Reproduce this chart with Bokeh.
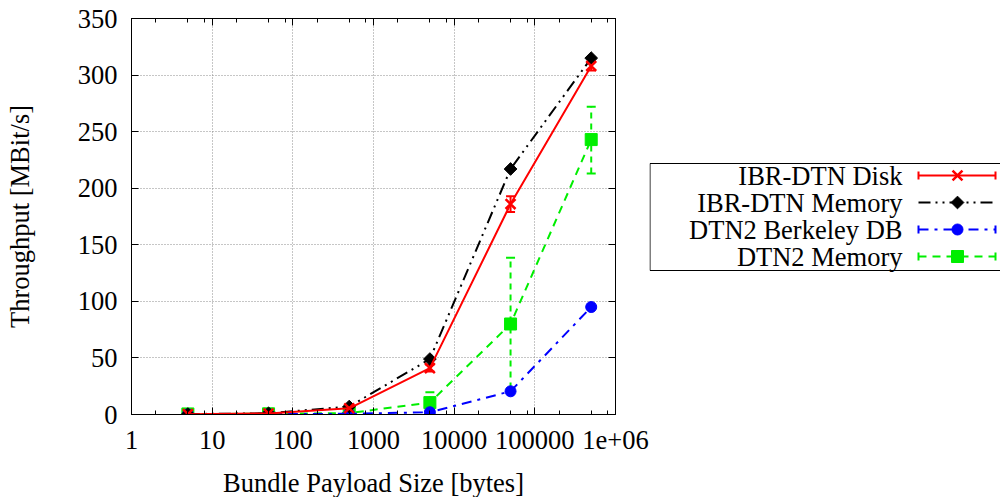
from bokeh.plotting import figure
from bokeh.layouts import row, column
from bokeh.models import (Range1d, FixedTicker, LinearAxis, LogAxis, Whisker, TeeHead,
                          ColumnDataSource)
from bokeh.core.properties import value
from bokeh.embed import file_html
from bokeh.resources import INLINE

FONT = "Liberation Serif"
FS = "26.5px"

# ---------------- data ----------------
sizes = [5, 50, 500, 5000, 50000, 500000]

ibr_disk = [0.3, 0.9, 5.5, 41, 186, 308]
ibr_disk_err = [0.1, 0.2, 1.0, 3.0, 7.0, 4.0]

ibr_mem = [0.4, 1.1, 7.0, 49, 217, 315]

dtn2_bdb = [0.1, 0.3, 0.6, 2.0, 20.5, 95]
dtn2_bdb_err = [0.1, 0.1, 0.2, 0.5, 1.5, 1.0]

dtn2_mem = [0.5, 0.6, 1.3, 10.5, 80, 243]
dtn2_mem_low = [0.3, 0.4, 0.8, 1.0, 23, 213]
dtn2_mem_high = [0.7, 0.8, 1.8, 19.7, 138.5, 272]

x_ticks = [1, 10, 100, 1000, 10000, 100000, 1000000]
x_tick_labels = ["1", "10", "100", "1000", "10000", "100000", "1e+06"]
x_minor = [m * d for d in [1, 10, 100, 1000, 10000, 100000] for m in (2, 5, 8)]
y_ticks = [0, 50, 100, 150, 200, 250, 300, 350]

x_title = "Bundle Payload Size [bytes]"
y_title = "Throughput [MBit/s]"

series_names = ["IBR-DTN Disk", "IBR-DTN Memory", "DTN2 Berkeley DB", "DTN2 Memory"]
series_colors = ["#ff0000", "#000000", "#0000ff", "#00ee00"]
series_dash = ["solid", "12 5 2 5 2 5", "10 6 3 6", "8 6"]
series_has_err = [True, False, True, True]

H = 497
BT, BL, BR = 18, 131, 34
TH = 37            # height of the strip that carries the x-axis title
PH = H - TH        # height of the main plot
BB = PH - BT - 396

# ---------------- main plot ----------------
p = figure(width=649, height=PH, x_axis_type="log",
           x_range=Range1d(1, 1e6), y_range=Range1d(0, 350),
           output_backend="svg", toolbar_location=None,
           min_border_left=BL, min_border_right=BR, min_border_top=BT, min_border_bottom=BB)
p.background_fill_color = "white"
p.border_fill_color = "white"
p.outline_line_color = "black"
p.outline_line_width = 1

xt = FixedTicker(ticks=x_ticks, minor_ticks=x_minor)
yt = FixedTicker(ticks=y_ticks)

p.xaxis.ticker = xt
p.xaxis.major_label_overrides = {t: l for t, l in zip(x_ticks, x_tick_labels)}
p.yaxis.ticker = yt
for ax in (p.xaxis[0], p.yaxis[0]):
    ax.major_tick_in = 7
    ax.major_tick_out = 0
    ax.minor_tick_in = 4
    ax.minor_tick_out = 0
    ax.axis_line_color = "black"
    ax.major_tick_line_color = "black"
    ax.minor_tick_line_color = "black"
    ax.major_label_text_font = FONT
    ax.major_label_text_font_size = FS
    ax.major_label_text_color = "black"
    ax.axis_label_text_font = FONT
    ax.axis_label_text_font_size = FS
    ax.axis_label_text_font_style = "normal"
    ax.axis_label_text_color = "black"
p.yaxis.minor_tick_line_color = None
p.yaxis.axis_label = y_title
p.xaxis.major_label_standoff = 16
p.yaxis.major_label_standoff = 14
p.yaxis.axis_label_standoff = 40

# mirrored axes (ticks only)
top = LogAxis(ticker=FixedTicker(ticks=x_ticks, minor_ticks=x_minor))
right = LinearAxis(ticker=FixedTicker(ticks=y_ticks))
for ax in (top, right):
    ax.major_tick_in = 7
    ax.major_tick_out = 0
    ax.minor_tick_in = 4
    ax.minor_tick_out = 0
    ax.major_label_text_font_size = "1px"
    ax.major_label_text_color = None
    ax.major_label_standoff = 0
    ax.axis_line_color = "black"
right.minor_tick_line_color = None
p.add_layout(top, "above")
p.add_layout(right, "right")

for g in (p.xgrid[0], p.ygrid[0]):
    g.grid_line_color = "#8c8c8c"
    g.grid_line_dash = "1 2"
    g.grid_line_width = 1
p.xgrid.ticker = xt
p.ygrid.ticker = yt

# error bars
src_disk = ColumnDataSource(dict(x=sizes, lo=[v - e for v, e in zip(ibr_disk, ibr_disk_err)],
                                 hi=[v + e for v, e in zip(ibr_disk, ibr_disk_err)]))
src_bdb = ColumnDataSource(dict(x=sizes, lo=[v - e for v, e in zip(dtn2_bdb, dtn2_bdb_err)],
                                hi=[v + e for v, e in zip(dtn2_bdb, dtn2_bdb_err)]))
src_mem2 = ColumnDataSource(dict(x=sizes, lo=dtn2_mem_low, hi=dtn2_mem_high))

for src, col, dash in ((src_disk, series_colors[0], "solid"),
                       (src_bdb, series_colors[2], "solid"),
                       (src_mem2, series_colors[3], "6 5")):
    w = Whisker(source=src, base="x", lower="lo", upper="hi", dimension="height",
                line_color=col, line_width=2, line_dash=dash,
                upper_head=TeeHead(size=9, line_color=col, line_width=2),
                lower_head=TeeHead(size=9, line_color=col, line_width=2))
    p.add_layout(w)

all_y = [ibr_disk, ibr_mem, dtn2_bdb, dtn2_mem]
for i in (3, 2, 1, 0):
    col = series_colors[i]
    p.line(sizes, all_y[i], line_color=col, line_width=2, line_dash=series_dash[i])
    if i == 0:
        p.scatter(sizes, all_y[i], marker="x", size=14, line_color=col, line_width=2.5)
    elif i == 1:
        p.scatter(sizes, all_y[i], marker="square", size=9, angle=0.785398,
                  fill_color=col, line_color=col)
    elif i == 2:
        p.scatter(sizes, all_y[i], marker="circle", size=11, fill_color=col, line_color=col)
    else:
        p.scatter(sizes, all_y[i], marker="square", size=12, fill_color=col, line_color=col)

# ---------------- x-axis title strip ----------------
t = figure(width=649, height=TH, title=None, x_range=Range1d(BL, 649 - BR), y_range=Range1d(TH, 0),
           output_backend="svg", toolbar_location=None,
           min_border_left=BL, min_border_right=BR, min_border_top=0, min_border_bottom=0)
t.xaxis.visible = False
t.yaxis.visible = False
t.grid.visible = False
t.outline_line_color = None
t.background_fill_color = "white"
t.border_fill_color = "white"
t.text(x=[(BL + 649 - BR) / 2], y=[22], text=[x_title], text_align="center",
       text_baseline="middle", text_font=value(FONT), text_font_size=FS, text_color="black")

# ---------------- legend panel (page pixel coordinates) ----------------
LW = 351
leg = figure(width=LW, height=H, x_range=Range1d(0, LW), y_range=Range1d(414, BT),
             output_backend="svg", toolbar_location=None,
             min_border_left=0, min_border_right=0, min_border_top=BT, min_border_bottom=H - 414)
leg.xaxis.visible = False
leg.yaxis.visible = False
leg.grid.visible = False
leg.outline_line_color = None
leg.background_fill_color = "white"
leg.border_fill_color = "white"

leg.quad(left=[0.5], right=[420], top=[163], bottom=[270], fill_color="white",
         line_color="black", line_width=1)

row_y = [175, 202, 229, 256]
x0, x1, xm = 269, 346, 308
leg.text(x=[253] * 4, y=row_y, text=series_names, text_align="right", text_baseline="middle",
         text_font=value(FONT), text_font_size=FS, text_color="black")
for i in range(4):
    col = series_colors[i]
    leg.line([x0, x1], [row_y[i], row_y[i]], line_color=col, line_width=2, line_dash=series_dash[i])
    if series_has_err[i]:
        leg.segment(x0=[x0, x1], x1=[x0, x1], y0=[row_y[i] - 4] * 2, y1=[row_y[i] + 4] * 2,
                    line_color=col, line_width=2)
    if i == 0:
        leg.scatter([xm], [row_y[i]], marker="x", size=14, line_color=col, line_width=2.5)
    elif i == 1:
        leg.scatter([xm], [row_y[i]], marker="square", size=9, angle=0.785398,
                    fill_color=col, line_color=col)
    elif i == 2:
        leg.scatter([xm], [row_y[i]], marker="circle", size=11, fill_color=col, line_color=col)
    else:
        leg.scatter([xm], [row_y[i]], marker="square", size=12, fill_color=col, line_color=col)

layout = row(column(p, t), leg)
open("out.html", "w").write(file_html(layout, INLINE))
